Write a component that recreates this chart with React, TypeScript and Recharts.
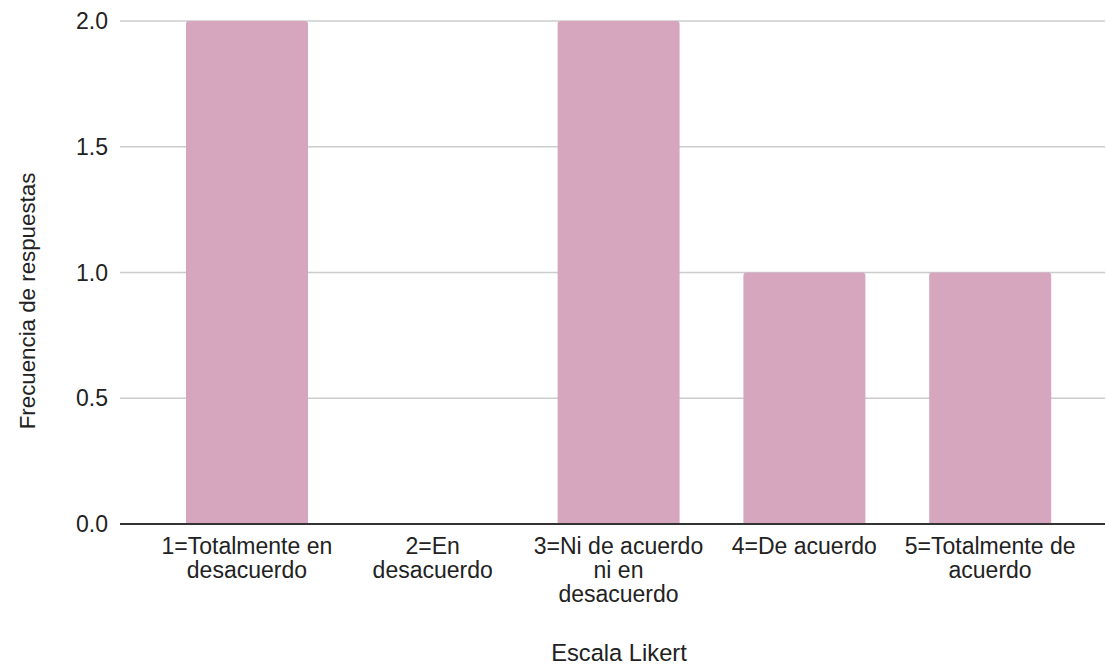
import { BarChart, Bar, XAxis, YAxis, CartesianGrid, Label } from 'recharts'

const categories = [
  '1=Totalmente en\ndesacuerdo',
  '2=En\ndesacuerdo',
  '3=Ni de acuerdo\nni en\ndesacuerdo',
  '4=De acuerdo',
  '5=Totalmente de\nacuerdo',
]
const frequencies = [2, 0, 2, 1, 1]
const yTicks = [0, 0.5, 1, 1.5, 2]

const data = categories.map((name, i) => ({ name, value: frequencies[i] }))

const FONT = '"Liberation Sans", Arial, sans-serif'
const FS = 23

function CategoryTick(props: any) {
  const { x, y, payload } = props
  const lines = String(payload.value).split('\n')
  return (
    <g transform={`translate(${x},${y})`}>
      {lines.map((line: string, i: number) => (
        <text key={i} x={0} y={30 + i * 24} textAnchor="middle" fill="#222" fontSize={FS} fontFamily={FONT}>
          {line}
        </text>
      ))}
    </g>
  )
}

export default function App() {
  return (
    <div style={{ position: 'absolute', left: 0, top: 0, width: 1106, height: 668, background: '#fff' }}>
      <BarChart width={1106} height={668} data={data} margin={{ top: 21, right: 1, bottom: 0, left: 0 }}>
        <CartesianGrid vertical={false} stroke="#ccc" strokeWidth={1.5} />
        <XAxis
          dataKey="name"
          interval={0}
          height={144}
          padding={{ left: 34, right: 22 }}
          tickLine={false}
          tickSize={0}
          tickMargin={0}
          axisLine={{ stroke: '#333', strokeWidth: 2 }}
          tick={<CategoryTick />}
        >
          <Label
            content={(p: any) => {
              const vb = p.viewBox
              return (
                <text x={619} y={vb.y + vb.height - 7} textAnchor="middle" fill="#222" fontSize={23.7} fontFamily={FONT}>
                  Escala Likert
                </text>
              )
            }}
          />
        </XAxis>
        <YAxis
          domain={[0, 2]}
          ticks={yTicks}
          width={120}
          axisLine={false}
          tickLine={false}
          tickSize={0}
          tickMargin={12}
          tickFormatter={(v: number) => v.toFixed(1)}
          tick={{ fill: '#222', fontSize: FS, fontFamily: FONT }}
        >
          <Label
            content={() => (
              <text
                x={0}
                y={0}
                transform="translate(35,301) rotate(-90)"
                textAnchor="middle"
                fill="#222"
                fontSize={22.3}
                fontFamily={FONT}
              >
                Frecuencia de respuestas
              </text>
            )}
          />
        </YAxis>
        <Bar dataKey="value" fill="#d5a6bd" barSize={122} radius={[3, 3, 0, 0]} isAnimationActive={false} />
      </BarChart>
    </div>
  )
}
